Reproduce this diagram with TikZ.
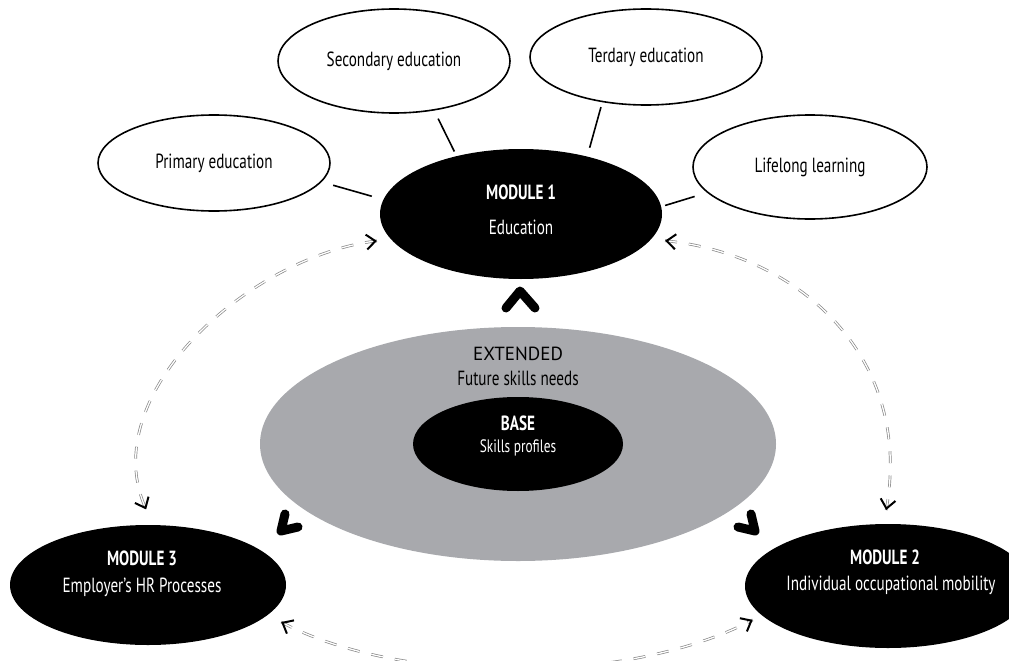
\documentclass[tikz,border=0pt]{standalone}
\usepackage{fontspec}
\setmainfont{PT Sans}[FakeStretch=0.74]
\newfontfamily\wideface{PT Sans}
\usetikzlibrary{shapes.geometric,arrows.meta}
\definecolor{extgray}{RGB}{168,169,173}
\definecolor{dashgray}{RGB}{135,135,135}

\begin{document}
\begin{tikzpicture}[x=1pt,y=-1pt]
        \tikzstyle{every node}=[font=\fontsize{20.5}{24}\selectfont];
        \tikzstyle{topnode}=[ellipse, draw, line width=1.6pt, fill=white, inner sep=0pt];
        \tikzstyle{modnode}=[ellipse, fill=black, inner sep=0pt];
        \tikzstyle{modtext}=[text=white, inner sep=0pt, anchor=base];
        \tikzstyle{spoke}=[line width=1.6pt];
        \tikzstyle{loopline}=[draw=dashgray, line width=0.7pt, double=white, double distance=1.3pt, dash pattern=on 12pt off 12pt];
        \tikzstyle{looptips}=[draw=black, line width=2pt, dash pattern=on 0pt off 3000pt, >={Straight Barb[length=9pt,width=15pt]}, <->];
        \tikzstyle{chev}=[line width=9pt, line cap=round, line join=round];

        \useasboundingbox (0,0) rectangle (1009,661);
        \clip (0,0) rectangle (1009,661);

        % centre: extended and base
        \node[ellipse, fill=extgray, minimum width=516, minimum height=234, inner sep=0pt] (ext) at (518,444) {};
        \node[modnode, minimum width=210, minimum height=94] (base) at (518,444) {};
        \path (ext) -- +(0,-84) node[anchor=base, inner sep=0pt, font=\fontsize{19}{22}\selectfont] (exttitle) {\wideface EXTENDED};
        \path (ext) -- +(0,-59) node[anchor=base, inner sep=0pt] (extname) {Future skills needs};
        \path (base) -- +(0,-14) node[modtext] (basetitle) {\bfseries BASE};
        \path (base) -- +(0,8) node[modtext, font=\fontsize{18}{21}\selectfont] (basename) {Skills profiles};

        % modules
        \node[modnode, minimum width=282, minimum height=130] (m1) at (521,214) {};
        \node[modnode, minimum width=286, minimum height=124] (m2) at (888,586) {};
        \node[modnode, minimum width=276, minimum height=120] (m3) at (148,585) {};
        \path (m1) -- +(0,-15) node[modtext] (m1title) {\bfseries MODULE 1};
        \path (m1) -- +(0,20) node[modtext] (m1name) {Education};
        \path (m2) -- +(-3,-22) node[modtext] (m2title) {\bfseries MODULE 2};
        \path (m2) -- +(3,4) node[modtext] (m2name) {Individual occupational mobility};
        \path (m3) -- +(-6,-20) node[modtext] (m3title) {\bfseries MODULE 3};
        \path (m3) -- +(-6,7) node[modtext] (m3name) {Employer’s HR Processes};

        % education levels
        \node[topnode, minimum width=232, minimum height=96] (prim) at (214,163) {Primary education};
        \node[topnode, minimum width=232, minimum height=104] (sec) at (394,61) {Secondary education};
        \node[topnode, minimum width=232, minimum height=96] (ter) at (646,57) {Terdary education};
        \node[topnode, minimum width=234, minimum height=104] (lif) at (810,167) {Lifelong learning};

        \draw[spoke, shorten <=12pt, shorten >=12pt] (prim.-10) -- (m1.174);
        \draw[spoke, shorten <=9pt, shorten >=5pt] (sec.-51) -- (m1.138);
        \draw[spoke, shorten <=5pt, shorten >=9pt] (ter.226) -- (m1.41);
        \draw[spoke, shorten <=13pt, shorten >=4pt] (lif.194) -- (m1.3);

        % chevrons out of the centre
        \draw[chev] (506,308) -- (520,291) -- (535,308);
        \draw[chev] (285,514) -- (281,531) -- (298,527);
        \draw[chev] (751,514) -- (755,531) -- (738,527);

        % loops between modules
        \draw[loopline, shorten <=14pt, shorten >=17pt] (m1.191) .. controls +(-140,16) and +(-60,-130) .. (m3.85);
        \draw[looptips, shorten <=14pt, shorten >=17pt] (m1.191) .. controls +(-140,16) and +(-60,-130) .. (m3.85);
        \draw[loopline, shorten <=14pt, shorten >=14pt] (m1.-11) .. controls +(150,15) and +(30,-165) .. (m2.94);
        \draw[looptips, shorten <=14pt, shorten >=14pt] (m1.-11) .. controls +(150,15) and +(30,-165) .. (m2.94);
        \draw[loopline, shorten <=15pt, shorten >=10pt] (m3.-14) .. controls +(132,71) and +(-132,70) .. (m2.193);
        \draw[looptips, shorten <=15pt, shorten >=10pt] (m3.-14) .. controls +(132,71) and +(-132,70) .. (m2.193);
\end{tikzpicture}
\end{document}
